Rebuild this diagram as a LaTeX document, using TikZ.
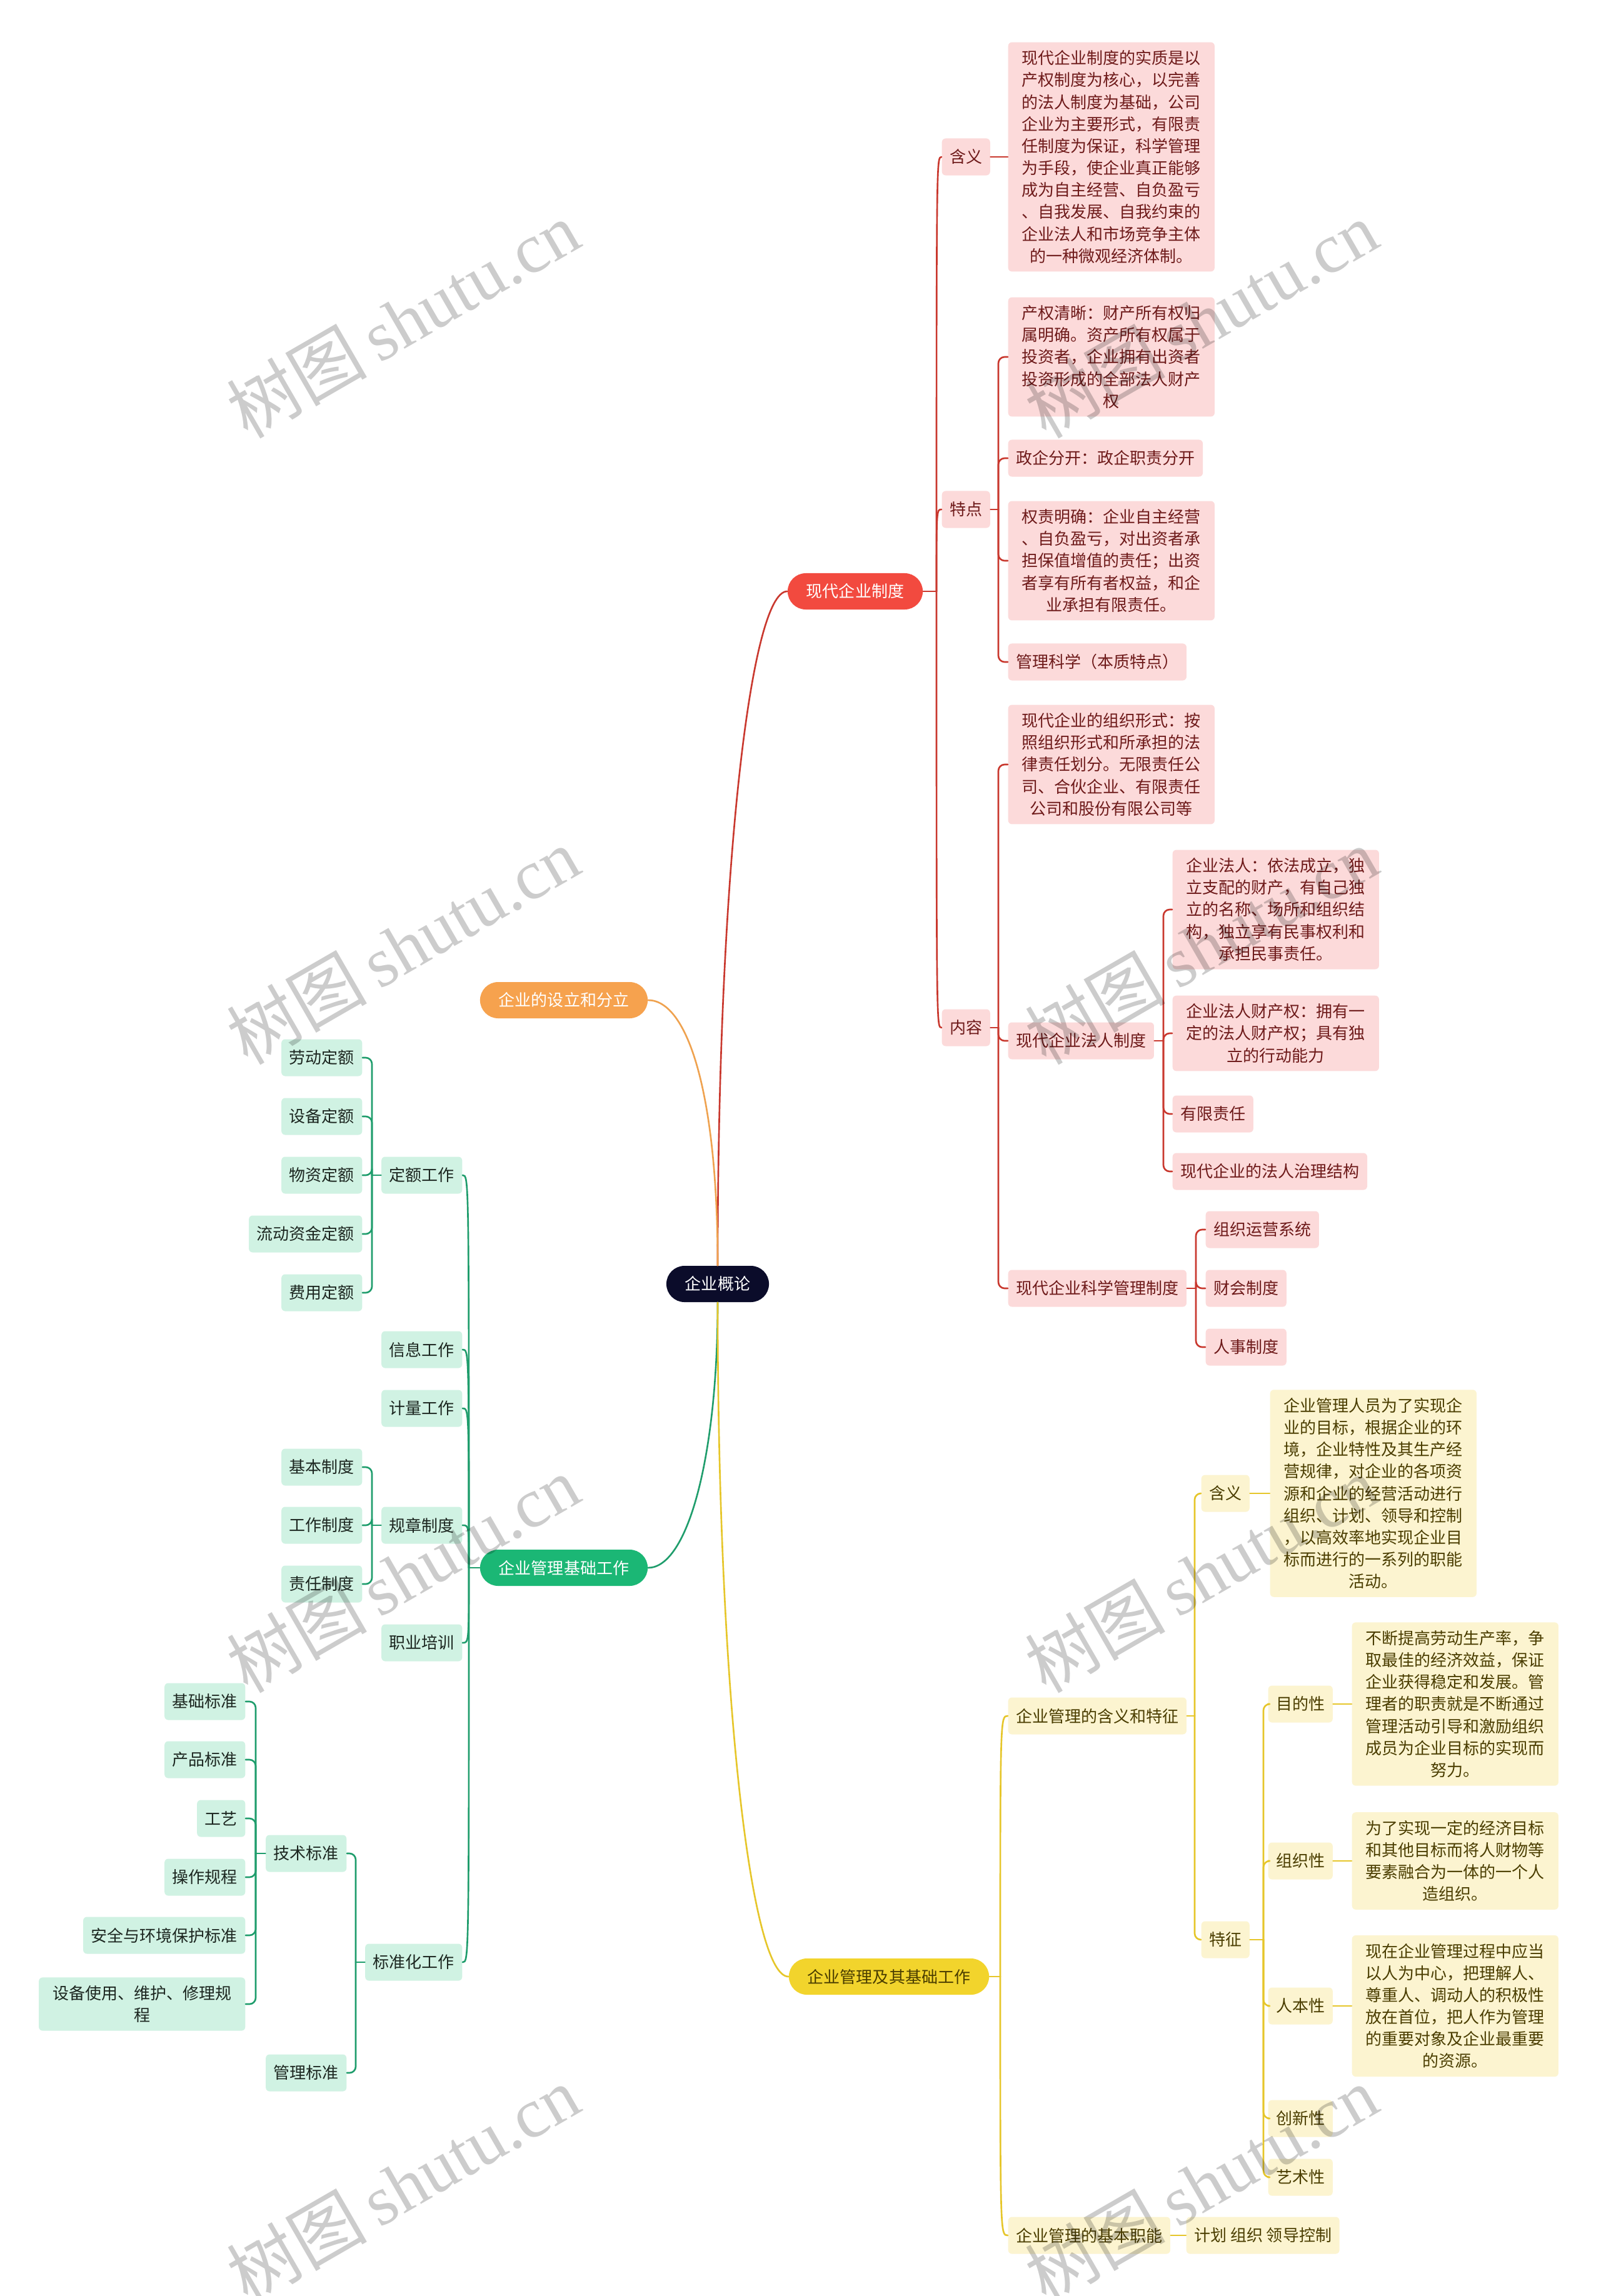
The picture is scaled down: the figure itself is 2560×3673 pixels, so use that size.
\documentclass[tikz,border=0pt]{standalone}
\usepackage{fontspec}
\setmainfont{Noto Sans CJK SC}
\newfontfamily\wmserif{Liberation Serif}

\definecolor{rootfill}{HTML}{0B0C2A}
\definecolor{redmain}{HTML}{F24A3F}
\definecolor{orangemain}{HTML}{F6A24E}
\definecolor{greenmain}{HTML}{1BB775}
\definecolor{yellowmain}{HTML}{F2D42C}
\definecolor{rfill}{HTML}{FCDADA}
\definecolor{rtext}{HTML}{6E1A1A}
\definecolor{rline}{HTML}{C9382E}
\definecolor{gfill}{HTML}{D0F2E3}
\definecolor{gtext}{HTML}{1C2620}
\definecolor{gline}{HTML}{1F9D6C}
\definecolor{yfill}{HTML}{FCF4D0}
\definecolor{ytext}{HTML}{4A3D00}
\definecolor{yline}{HTML}{E6C62A}
\definecolor{oline}{HTML}{EFA24F}

\begin{document}
\begin{tikzpicture}[x=0.01cm, y=-0.01cm, line cap=round, line join=round,
    every node/.style={font=\fontsize{7.4}{10}\selectfont},
    topic/.style={rounded corners=0.29cm, minimum height=0.58cm, inner xsep=0.3cm, inner ysep=0pt, text=white},
    leaf/.style={rounded corners=0.06cm, minimum height=0.59cm, inner xsep=0.125cm, inner ysep=0.13cm, align=center},
    rsub/.style={leaf, fill=rfill, text=rtext},
    rbox/.style={rsub, minimum width=3.3cm},
    gsub/.style={leaf, fill=gfill, text=gtext},
    gbox/.style={gsub, minimum width=3.3cm},
    ysub/.style={leaf, fill=yfill, text=ytext},
    ybox/.style={ysub, minimum width=3.3cm},
    rlink/.style={draw=rline, line width=0.75pt},
    glink/.style={draw=gline, line width=0.75pt},
    ylink/.style={draw=yline, line width=0.75pt},
    olink/.style={draw=oline, line width=0.75pt},
    elbow/.style={rounded corners=0.1cm}]

  \fill[white] (0,0) rectangle (2560,3673);
  \useasboundingbox (0,0) rectangle (2560,3673);

  % centre and main branches
  \node[topic, fill=rootfill] (root) at (1148,2054) {企业概论};
  \node[topic, fill=redmain] (modern) at (1368,946) {现代企业制度};
  \node[topic, fill=orangemain] (setup) at (902,1600) {企业的设立和分立};
  \node[topic, fill=greenmain] (basework) at (902,2508) {企业管理基础工作};
  \node[topic, fill=yellowmain, text=ytext] (mgmt) at (1422,3162) {企业管理及其基础工作};

  \draw[rlink] (root.north) .. controls (1148,1400) and (1200,946) .. (modern.west);
  \draw[olink] (root.north) .. controls (1148,1750) and (1100,1600) .. (setup.east);
  \draw[glink] (root.south) .. controls (1148,2330) and (1100,2508) .. (basework.east);
  \draw[ylink] (root.south) .. controls (1148,2700) and (1200,3162) .. (mgmt.west);

  % 现代企业制度
  \node[rsub, anchor=west] (mdMeaning) at (1506,251) {含义};
  \node[rbox, anchor=west] (mdMeaningTxt) at (1612,251) {现代企业制度的实质是以\\产权制度为核心，以完善\\的法人制度为基础，公司\\企业为主要形式，有限责\\任制度为保证，科学管理\\为手段，使企业真正能够\\成为自主经营、自负盈亏\\、自我发展、自我约束的\\企业法人和市场竞争主体\\的一种微观经济体制。};
  \node[rsub, anchor=west] (mdFeature) at (1506,815) {特点};
  \node[rbox, anchor=west] (fProperty) at (1612,571) {产权清晰：财产所有权归\\属明确。资产所有权属于\\投资者，企业拥有出资者\\投资形成的全部法人财产\\权};
  \node[rsub, anchor=west] (fSeparate) at (1612,733) {政企分开：政企职责分开};
  \node[rbox, anchor=west] (fDuty) at (1612,897) {权责明确：企业自主经营\\、自负盈亏，对出资者承\\担保值增值的责任；出资\\者享有所有者权益，和企\\业承担有限责任。};
  \node[rsub, anchor=west] (fScience) at (1612,1059) {管理科学（本质特点）};
  \node[rsub, anchor=west] (mdContent) at (1506,1644) {内容};
  \node[rbox, anchor=west] (cForm) at (1612,1223) {现代企业的组织形式：按\\照组织形式和所承担的法\\律责任划分。无限责任公\\司、合伙企业、有限责任\\公司和股份有限公司等};
  \node[rsub, anchor=west] (cLegal) at (1612,1665) {现代企业法人制度};
  \node[rbox, anchor=west] (lPerson) at (1875,1455) {企业法人：依法成立，独\\立支配的财产，有自己独\\立的名称、场所和组织结\\构，独立享有民事权利和\\承担民事责任。};
  \node[rbox, anchor=west] (lProperty) at (1875,1653) {企业法人财产权：拥有一\\定的法人财产权；具有独\\立的行动能力};
  \node[rsub, anchor=west] (lLimited) at (1875,1782) {有限责任};
  \node[rsub, anchor=west] (lGovern) at (1875,1874) {现代企业的法人治理结构};
  \node[rsub, anchor=west] (cScience) at (1612,2061) {现代企业科学管理制度};
  \node[rsub, anchor=west] (sOperate) at (1928,1967) {组织运营系统};
  \node[rsub, anchor=west] (sFinance) at (1928,2061) {财会制度};
  \node[rsub, anchor=west] (sPersonnel) at (1928,2155) {人事制度};

  \coordinate (mdTrunk) at (1498,946);
  \coordinate (ftTrunk) at (1597,815);
  \coordinate (ctTrunk) at (1597,1644);
  \coordinate (lgTrunk) at (1861,1665);
  \coordinate (scTrunk) at (1913,2061);
  \draw[rlink] (modern.east) -- (mdTrunk);
  \foreach \n in {mdMeaning,mdFeature,mdContent}
    \draw[rlink] (mdTrunk) .. controls (mdTrunk |- \n.west) .. (\n.west);
  \draw[rlink] (mdMeaning.east) -- (mdMeaningTxt.west);
  \draw[rlink] (mdFeature.east) -- (ftTrunk);
  \foreach \n in {fProperty,fSeparate,fDuty,fScience}
    \draw[rlink, elbow] (ftTrunk) |- (\n.west);
  \draw[rlink] (mdContent.east) -- (ctTrunk);
  \foreach \n in {cForm,cLegal,cScience}
    \draw[rlink, elbow] (ctTrunk) |- (\n.west);
  \draw[rlink] (cLegal.east) -- (lgTrunk);
  \foreach \n in {lPerson,lProperty,lLimited,lGovern}
    \draw[rlink, elbow] (lgTrunk) |- (\n.west);
  \draw[rlink] (cScience.east) -- (scTrunk);
  \foreach \n in {sOperate,sFinance,sPersonnel}
    \draw[rlink, elbow] (scTrunk) |- (\n.west);

  % 企业管理及其基础工作
  \node[ysub, anchor=west] (mgMeanFeat) at (1612,2745) {企业管理的含义和特征};
  \node[ysub, anchor=west] (mgMean) at (1921,2389) {含义};
  \node[ybox, anchor=west] (mgMeanTxt) at (2031,2389) {企业管理人员为了实现企\\业的目标，根据企业的环\\境，企业特性及其生产经\\营规律，对企业的各项资\\源和企业的经营活动进行\\组织、计划、领导和控制\\，以高效率地实现企业目\\标而进行的一系列的职能\\活动。};
  \node[ysub, anchor=west] (mgFeat) at (1921,3103) {特征};
  \node[ysub, anchor=west] (ftAim) at (2028,2726) {目的性};
  \node[ybox, anchor=west] (ftAimTxt) at (2162,2726) {不断提高劳动生产率，争\\取最佳的经济效益，保证\\企业获得稳定和发展。管\\理者的职责就是不断通过\\管理活动引导和激励组织\\成员为企业目标的实现而\\努力。};
  \node[ysub, anchor=west] (ftOrg) at (2028,2977) {组织性};
  \node[ybox, anchor=west] (ftOrgTxt) at (2162,2977) {为了实现一定的经济目标\\和其他目标而将人财物等\\要素融合为一体的一个人\\造组织。};
  \node[ysub, anchor=west] (ftHuman) at (2028,3209) {人本性};
  \node[ybox, anchor=west] (ftHumanTxt) at (2162,3209) {现在企业管理过程中应当\\以人为中心，把理解人、\\尊重人、调动人的积极性\\放在首位，把人作为管理\\的重要对象及企业最重要\\的资源。};
  \node[ysub, anchor=west] (ftInnov) at (2028,3389) {创新性};
  \node[ysub, anchor=west] (ftArt) at (2028,3483) {艺术性};
  \node[ysub, anchor=west] (mgFunc) at (1612,3576) {企业管理的基本职能};
  \node[ysub, anchor=west] (mgFuncTxt) at (1897,3576) {计划 组织 领导控制};

  \coordinate (mgTrunk) at (1600,3162);
  \coordinate (mfTrunk) at (1911,2745);
  \coordinate (feTrunk) at (2021,3103);
  \draw[ylink] (mgmt.east) -- (mgTrunk);
  \foreach \n in {mgMeanFeat,mgFunc}
    \draw[ylink] (mgTrunk) .. controls (mgTrunk |- \n.west) .. (\n.west);
  \draw[ylink] (mgMeanFeat.east) -- (mfTrunk);
  \foreach \n in {mgMean,mgFeat}
    \draw[ylink, elbow] (mfTrunk) |- (\n.west);
  \draw[ylink] (mgMean.east) -- (mgMeanTxt.west);
  \draw[ylink] (mgFeat.east) -- (feTrunk);
  \foreach \n in {ftAim,ftOrg,ftHuman,ftInnov,ftArt}
    \draw[ylink, elbow] (feTrunk) |- (\n.west);
  \draw[ylink] (ftAim.east) -- (ftAimTxt.west);
  \draw[ylink] (ftOrg.east) -- (ftOrgTxt.west);
  \draw[ylink] (ftHuman.east) -- (ftHumanTxt.west);
  \draw[ylink] (mgFunc.east) -- (mgFuncTxt.west);

  % 企业管理基础工作
  \node[gsub, anchor=east] (quota) at (740,1880) {定额工作};
  \node[gsub, anchor=east] (qLabor) at (580,1692) {劳动定额};
  \node[gsub, anchor=east] (qDevice) at (580,1786) {设备定额};
  \node[gsub, anchor=east] (qMaterial) at (580,1880) {物资定额};
  \node[gsub, anchor=east] (qFund) at (580,1974) {流动资金定额};
  \node[gsub, anchor=east] (qCost) at (580,2068) {费用定额};
  \node[gsub, anchor=east] (info) at (740,2159) {信息工作};
  \node[gsub, anchor=east] (measure) at (740,2253) {计量工作};
  \node[gsub, anchor=east] (rules) at (740,2440) {规章制度};
  \node[gsub, anchor=east] (rBasic) at (580,2347) {基本制度};
  \node[gsub, anchor=east] (rWork) at (580,2440) {工作制度};
  \node[gsub, anchor=east] (rDuty) at (580,2534) {责任制度};
  \node[gsub, anchor=east] (train) at (740,2628) {职业培训};
  \node[gsub, anchor=east] (standard) at (740,3139) {标准化工作};
  \node[gsub, anchor=east] (tech) at (555,2965) {技术标准};
  \node[gsub, anchor=east] (tBase) at (393,2722) {基础标准};
  \node[gsub, anchor=east] (tProduct) at (393,2815) {产品标准};
  \node[gsub, anchor=east] (tCraft) at (393,2909) {工艺};
  \node[gsub, anchor=east] (tOperate) at (393,3003) {操作规程};
  \node[gsub, anchor=east] (tSafety) at (393,3096) {安全与环境保护标准};
  \node[gbox, anchor=east] (tDevice) at (393,3206) {设备使用、维护、修理规\\程};
  \node[gsub, anchor=east] (manage) at (555,3316) {管理标准};

  \coordinate (bwTrunk) at (750,2508);
  \coordinate (qtTrunk) at (595,1880);
  \coordinate (ruTrunk) at (595,2440);
  \coordinate (stTrunk) at (569,3139);
  \coordinate (teTrunk) at (409,2965);
  \draw[glink] (basework.west) -- (bwTrunk);
  \foreach \n in {quota,info,measure,rules,train,standard}
    \draw[glink] (bwTrunk) .. controls (bwTrunk |- \n.east) .. (\n.east);
  \draw[glink] (quota.west) -- (qtTrunk);
  \foreach \n in {qLabor,qDevice,qMaterial,qFund,qCost}
    \draw[glink, elbow] (qtTrunk) |- (\n.east);
  \draw[glink] (rules.west) -- (ruTrunk);
  \foreach \n in {rBasic,rWork,rDuty}
    \draw[glink, elbow] (ruTrunk) |- (\n.east);
  \draw[glink] (standard.west) -- (stTrunk);
  \foreach \n in {tech,manage}
    \draw[glink, elbow] (stTrunk) |- (\n.east);
  \draw[glink] (tech.west) -- (teTrunk);
  \foreach \n in {tBase,tProduct,tCraft,tOperate,tSafety,tDevice}
    \draw[glink, elbow] (teTrunk) |- (\n.east);

  % watermark
  \foreach \x in {644,1921}
    \foreach \y in {511,1513,2518,3494}
      \node[rotate=30, text=black, opacity=0.2, font=\fontsize{32}{32}\selectfont] at (\x,\y) {树图\,{\wmserif shutu.cn}};
\end{tikzpicture}
\end{document}
